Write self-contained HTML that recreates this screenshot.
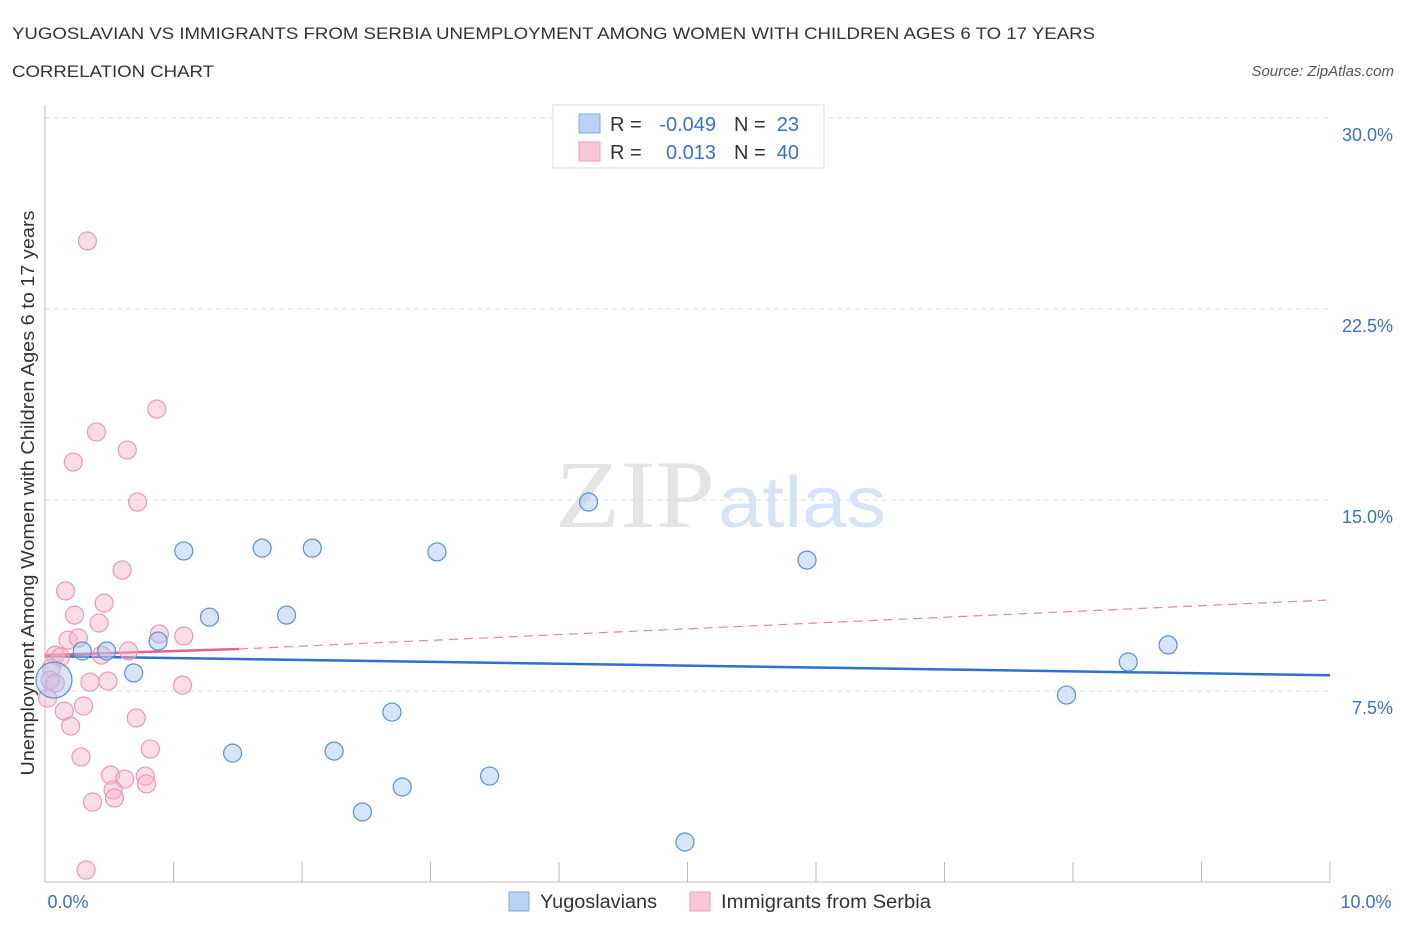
<!DOCTYPE html>
<html><head><meta charset="utf-8"><style>
body{margin:0;background:#fff;font-family:"Liberation Sans",sans-serif;}
</style></head><body>
<svg id="c" width="1406" height="930" xmlns="http://www.w3.org/2000/svg" style="font-family:'Liberation Sans',sans-serif">
<text x="12" y="39" font-size="17" fill="#333" textLength="1083" lengthAdjust="spacingAndGlyphs">YUGOSLAVIAN VS IMMIGRANTS FROM SERBIA UNEMPLOYMENT AMONG WOMEN WITH CHILDREN AGES 6 TO 17 YEARS</text>
<text x="12" y="77" font-size="17" fill="#333" textLength="202" lengthAdjust="spacingAndGlyphs">CORRELATION CHART</text>
<text x="1394" y="76" font-size="15" fill="#555" font-style="italic" text-anchor="end">Source: ZipAtlas.com</text>
<text x="555" y="527" font-size="96" fill="#e4e4e4" font-family="Liberation Serif,serif" textLength="160" lengthAdjust="spacingAndGlyphs">ZIP</text>
<text x="718" y="527" font-size="72" fill="#d6e4f5" textLength="168" lengthAdjust="spacingAndGlyphs">atlas</text>
<g id="grid"></g>
<g id="axes"></g>
<g id="lines"></g>
<g id="pts"></g>
<text transform="translate(34,493) rotate(-90)" font-size="18" fill="#333" text-anchor="middle" textLength="565" lengthAdjust="spacingAndGlyphs">Unemployment Among Women with Children Ages 6 to 17 years</text>
<g>
<rect x="553" y="105" width="271" height="63" fill="#fff" stroke="#ddd"/>
<rect x="579" y="114" width="21" height="19" fill="#b9d3f5" stroke="#7ea8e0"/>
<rect x="579" y="142" width="21" height="19" fill="#f9c6d5" stroke="#ee9fb7"/>
<text x="610" y="131" font-size="20" fill="#333">R =</text><text x="716" y="131" font-size="20" fill="#3a72c9" text-anchor="end">-0.049</text>
<text x="734" y="131" font-size="20" fill="#333">N =</text><text x="799" y="131" font-size="20" fill="#3a72c9" text-anchor="end">23</text>
<text x="610" y="159" font-size="20" fill="#333">R =</text><text x="716" y="159" font-size="20" fill="#3a72c9" text-anchor="end">0.013</text>
<text x="734" y="159" font-size="20" fill="#333">N =</text><text x="799" y="159" font-size="20" fill="#3a72c9" text-anchor="end">40</text>
</g>
<g>
<rect x="509" y="892" width="20" height="19" fill="#b9d3f5" stroke="#7ea8e0"/>
<text x="540" y="908" font-size="19" fill="#333" textLength="117" lengthAdjust="spacingAndGlyphs">Yugoslavians</text>
<rect x="690" y="892" width="20" height="19" fill="#f9c6d5" stroke="#ee9fb7"/>
<text x="721" y="908" font-size="19" fill="#333" textLength="210" lengthAdjust="spacingAndGlyphs">Immigrants from Serbia</text>
</g>
</svg>
<script>
const blueX=[.07,.29,.48,.69,.88,1.08,1.28,1.46,1.69,1.88,2.08,2.25,2.47,2.70,2.78,3.05,3.46,4.23,4.98,5.93,7.95,8.43,8.74];
const blueY=[7.93,9.07,9.07,8.21,9.46,13.0,10.40,5.06,13.11,10.48,13.11,5.14,2.75,6.67,3.73,12.96,4.16,14.92,1.57,12.64,7.34,8.64,9.31];
const pinkX=[.33,.87,.40,.64,.22,.72,.60,.16,.46,.23,.42,.18,.26,.89,1.08,.65,.44,.08,.12,.05,.04,.08,.35,.49,1.07,.02,.30,.15,.20,.71,.82,.28,.51,.78,.62,.79,.53,.54,.37,.32];
const pinkY=[25.17,18.57,17.67,16.96,16.49,14.92,12.25,11.43,10.95,10.48,10.17,9.50,9.58,9.74,9.66,9.07,8.91,8.91,8.83,8.40,7.93,7.81,7.85,7.89,7.73,7.22,6.91,6.71,6.12,6.44,5.22,4.91,4.20,4.16,4.04,3.85,3.61,3.30,3.14,0.47];
const yTicks=[7.5,15,22.5,30];
const yTickLabels=["7.5%","15.0%","22.5%","30.0%"];
const blueTrend=[8.87,8.12];
const pinkTrend=[8.91,9.15,11.07];
const pinkSolidEnd=1.51, pinkDashEnd=9.97;
const NS='http://www.w3.org/2000/svg';
const X=v=>45+v*128.5, Y=v=>882-v*25.467;
function mk(t,a,p){const e=document.createElementNS(NS,t);for(const k in a)e.setAttribute(k,a[k]);document.getElementById(p).appendChild(e);return e;}
yTicks.forEach((t,i)=>{
 const g=mk('line',{x1:45,x2:1330,y1:Y(t),y2:Y(t),stroke:'#ddd','stroke-dasharray':'5,4'},'grid');
 
 
 const l=mk('text',{x:1393,y:Y(t)+23,'font-size':18,fill:'#3a72c9','text-anchor':'end'},'axes');
 l.textContent=yTickLabels[i];
 
 
});
let a=mk('line',{x1:45,x2:45,y1:105,y2:882,stroke:'#bbb'},'axes');


a=mk('line',{x1:45,x2:1330,y1:882,y2:882,stroke:'#bbb'},'axes');


for(let i=1;i<=10;i++){const t=mk('line',{x1:X(i),x2:X(i),y1:862,y2:882,stroke:'#bbb'},'axes');
 
 }
let t=mk('text',{x:68,y:908,'font-size':18,fill:'#3a72c9','text-anchor':'middle'},'axes');t.textContent='0.0%';


t=mk('text',{x:1366,y:908,'font-size':18,fill:'#3a72c9','text-anchor':'middle'},'axes');t.textContent='10.0%';


function dot(x,y,r,f,s,n){const c=mk('circle',{cx:X(x),cy:Y(y),r:r,fill:f,stroke:s,'stroke-width':1.2},'pts');
 
 }
pinkX.forEach((x,i)=>dot(x,pinkY[i],9,'rgba(248,180,202,0.45)','#ea9ab3','serbia-point'));
blueX.forEach((x,i)=>dot(x,blueY[i],i===0?18:9,'rgba(165,198,240,0.45)','#5a8fd8','yugoslavian-point'));
let l=mk('line',{x1:X(0),x2:X(10),y1:Y(blueTrend[0]),y2:Y(blueTrend[1]),stroke:'#2f6fd0','stroke-width':2.5},'lines');


l=mk('line',{x1:X(pinkSolidEnd),x2:X(pinkDashEnd),y1:Y(pinkTrend[1]),y2:Y(pinkTrend[2]),stroke:'#e8839f','stroke-width':1.2,'stroke-dasharray':'9,6'},'lines');


l=mk('line',{x1:X(0),x2:X(pinkSolidEnd),y1:Y(pinkTrend[0]),y2:Y(pinkTrend[1]),stroke:'#e8608a','stroke-width':2.5},'lines');


</script>
</body></html>
